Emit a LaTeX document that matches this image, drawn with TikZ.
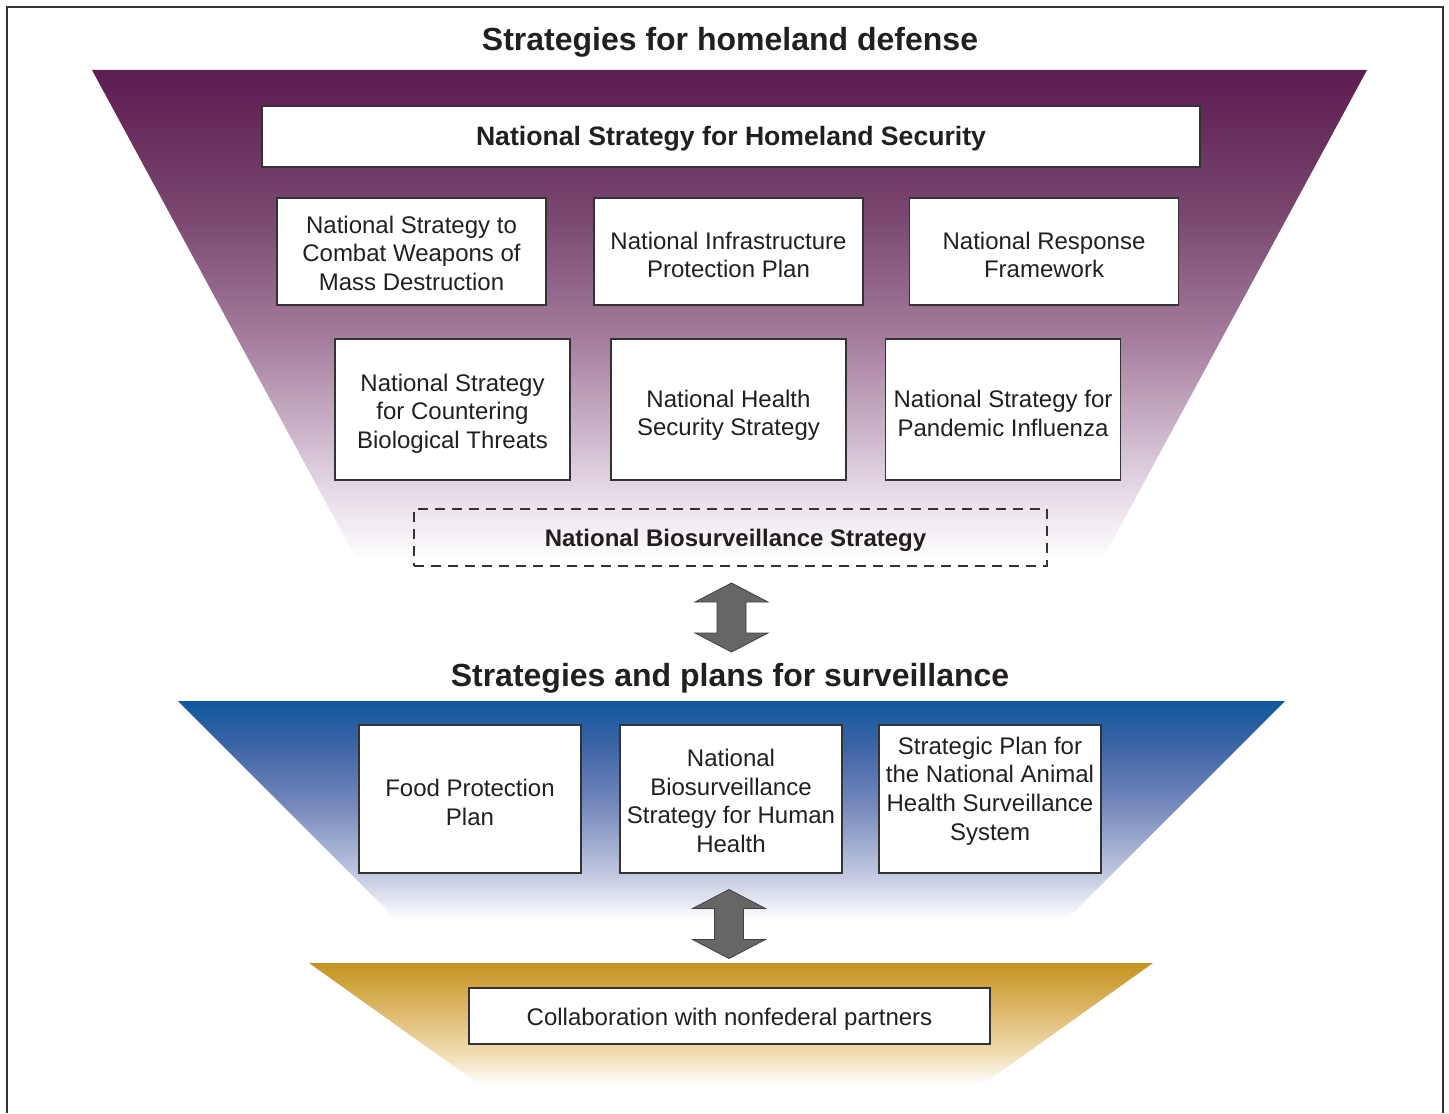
\documentclass[tikz,border=0pt]{standalone}
\usepackage{fontspec}
\setmainfont{Liberation Sans}
\usetikzlibrary{calc}

\definecolor{plum}{RGB}{92,28,80}
\definecolor{plumA}{RGB}{122,72,112}
\definecolor{plumB}{RGB}{165,125,158}
\definecolor{plumC}{RGB}{228,215,228}
\definecolor{navy}{RGB}{16,88,158}
\definecolor{navyA}{RGB}{60,100,165}
\definecolor{navyB}{RGB}{112,132,186}
\definecolor{navyC}{RGB}{195,202,225}
\definecolor{ochre}{RGB}{196,148,30}
\definecolor{ochreA}{RGB}{222,185,110}
\definecolor{ochreB}{RGB}{240,222,180}
\definecolor{inkgray}{RGB}{35,31,32}

\pgfdeclareverticalshading{plumfade}{100bp}{color(0bp)=(white); color(25bp)=(white);
  color(32.5bp)=(plumC); color(47.5bp)=(plumB); color(60bp)=(plumA);
  color(75bp)=(plum); color(100bp)=(plum)}
\pgfdeclareverticalshading{navyfade}{100bp}{color(0bp)=(white); color(25bp)=(white);
  color(35bp)=(navyC); color(52.5bp)=(navyB); color(65bp)=(navyA);
  color(75bp)=(navy); color(100bp)=(navy)}
\pgfdeclareverticalshading{ochrefade}{100bp}{color(0bp)=(white); color(25bp)=(white);
  color(37.5bp)=(ochreB); color(55bp)=(ochreA);
  color(75bp)=(ochre); color(100bp)=(ochre)}

\tikzset{
  box/.style={draw=black!80, line width=0.75pt, fill=white, align=center,
    inner sep=2pt, text=inkgray, font=\fontsize{12}{14.3}\selectfont},
  heading/.style={anchor=base, text=inkgray, font=\fontsize{16}{19}\selectfont\bfseries},
  updown/.style={fill=black!60, draw=black!75, line width=0.4pt}
}

% double block arrow centred at (#1,#2)
\newcommand{\updown}[2]{%
  \filldraw[updown] (#1,#2) ++(0,-34.5) -- ++(36.5,19) -- ++(-22,0) -- ++(0,31)
    -- ++(22,0) -- ++(-36.5,19) -- ++(-36.5,-19) -- ++(22,0) -- ++(0,-31)
    -- ++(-22,0) -- cycle;}

\begin{document}
\begin{tikzpicture}[x=0.5pt, y=-0.5pt]
\useasboundingbox (0,0) rectangle (1449,1113);
\draw[black!80, line width=1pt] (7,1113) -- (7,7) -- (1443,7) -- (1443,1113);

% the three funnels
\shade[shading=plumfade] (92,70) -- (1367,70) -- (1102,560) -- (357,560) -- cycle;
\shade[shading=navyfade] (178,701) -- (1285,701) -- (1066,920) -- (397,920) -- cycle;
\shade[shading=ochrefade] (309,963) -- (1153,963) -- (982,1085) -- (480,1085) -- cycle;

\node[heading] (defense) at (730,50.5) {Strategies for homeland defense};

\node[box, minimum width=469pt, minimum height=30.5pt, text height=11.5pt,
  font=\fontsize{13.3}{15}\selectfont\bfseries]
  (nshs) at (731,136.5) {National Strategy for Homeland Security};

\node[box, minimum width=134.5pt, minimum height=53.5pt, text height=39.2pt] (wmd) at (411.5,251.5)
  {National Strategy to\\Combat Weapons of\\Mass Destruction};
\node[box, minimum width=134.5pt, minimum height=53.5pt, text height=26.4pt] (nipp) at (728.5,251.5)
  {National Infrastructure\\Protection Plan};
\node[box, minimum width=134.5pt, minimum height=53.5pt, text height=26.4pt] (nrf) at (1044,251.5)
  {National Response\\Framework};

\node[box, minimum width=117.5pt, minimum height=70.5pt, text height=41.2pt] (bio) at (452.5,409.5)
  {National Strategy\\for Countering\\Biological Threats};
\node[box, minimum width=117.5pt, minimum height=70.5pt, text height=28.9pt] (nhss) at (728.5,409.5)
  {National Health\\Security Strategy};
\node[box, minimum width=117.5pt, minimum height=70.5pt, text height=26.9pt] (flu) at (1003,409.5)
  {National Strategy for\\Pandemic Influenza};

\node[box, fill=none, line width=1pt, dash pattern=on 5pt off 3.5pt, text height=11.5pt,
  minimum width=316.5pt, minimum height=28.5pt, font=\fontsize{12}{14.3}\selectfont\bfseries]
  (nbs) at (730.5,537.5) {\hspace*{5pt}National Biosurveillance Strategy};

\updown{731.5}{617.5}

\node[heading] (surv) at (730,686.5) {Strategies and plans for surveillance};

\node[box, minimum width=111pt, minimum height=74pt, text height=26.4pt] (food) at (470,799)
  {Food Protection\\Plan};
\node[box, minimum width=111pt, minimum height=74pt, text height=53.5pt] (human) at (731,799)
  {National\\Biosurveillance\\Strategy for Human\\Health};
\node[box, minimum width=111pt, minimum height=74pt, text height=43.5pt] (animal) at (990,799)
  {Strategic Plan for\\the National Animal\\Health Surveillance\\System};

\updown{729}{924}

\node[box, minimum width=260.5pt, minimum height=28pt, text height=11.5pt] (partners) at (729.5,1016)
  {Collaboration with nonfederal partners};
\end{tikzpicture}
\end{document}
